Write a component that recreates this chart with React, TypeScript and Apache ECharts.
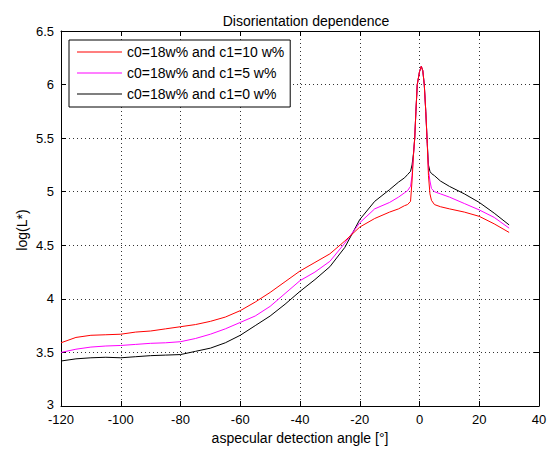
import React, { useEffect, useRef } from "react";
import * as echarts from "echarts";

const xValues = [-120, -115, -110, -105, -100, -95, -90, -85, -80, -75, -70, -65, -60, -55, -50, -45, -40, -35, -30, -25, -20, -15, -10, -7, -5, -4, -3, -2.5, -2, -1.6, -1.2, -0.75, 0, 0.6, 1.1, 1.6, 2.1, 2.6, 3, 3.5, 4, 5, 7, 10, 15, 20, 25, 30];

const redValues = [3.59, 3.64, 3.66, 3.665, 3.67, 3.69, 3.7, 3.72, 3.74, 3.76, 3.79, 3.83, 3.89, 3.97, 4.06, 4.16, 4.26, 4.34, 4.42, 4.54, 4.67, 4.75, 4.81, 4.84, 4.87, 4.88, 4.91, 5.1, 5.35, 5.5, 5.75, 6.0, 6.12, 6.17, 6.13, 6.0, 5.75, 5.45, 5.15, 4.98, 4.92, 4.88, 4.86, 4.84, 4.81, 4.77, 4.7, 4.62];

const magentaValues = [3.5, 3.53, 3.55, 3.56, 3.565, 3.575, 3.585, 3.59, 3.6, 3.63, 3.67, 3.72, 3.78, 3.84, 3.93, 4.05, 4.17, 4.25, 4.35, 4.52, 4.71, 4.84, 4.9, 4.95, 4.99, 5.01, 5.05, 5.15, 5.35, 5.5, 5.75, 6.0, 6.12, 6.17, 6.13, 6.0, 5.75, 5.45, 5.2, 5.1, 5.03, 5.0, 4.98, 4.95, 4.89, 4.83, 4.76, 4.66];

const blackValues = [3.42, 3.44, 3.45, 3.455, 3.45, 3.46, 3.47, 3.475, 3.48, 3.51, 3.54, 3.59, 3.66, 3.75, 3.84, 3.95, 4.07, 4.18, 4.3, 4.48, 4.74, 4.91, 5.02, 5.09, 5.13, 5.16, 5.19, 5.25, 5.36, 5.5, 5.75, 6.0, 6.12, 6.17, 6.13, 6.0, 5.75, 5.45, 5.25, 5.19, 5.17, 5.15, 5.1, 5.05, 4.98, 4.9, 4.8, 4.69];

const seriesNames = ["c0=18w% and c1=10 w%", "c0=18w% and c1=5 w%", "c0=18w% and c1=0 w%"];
const seriesColors = ["#ff0000", "#ff00ff", "#000000"];

const FONT = "'Liberation Sans', Arial, sans-serif";

function zip(xs: number[], ys: number[]) {
  return xs.map((x, i) => [x, ys[i]]);
}

export default function App() {
  const ref = useRef<HTMLDivElement>(null);
  useEffect(() => {
    if (!ref.current) return;
    const chart = echarts.init(ref.current, null, { renderer: "svg" });
    const valueSets = [redValues, magentaValues, blackValues];
    const axisCommon = {
      type: "value" as const,
      axisLine: { show: true, onZero: false, lineStyle: { color: "#000", width: 1 } },
      axisTick: { show: true, inside: true, length: 5, lineStyle: { color: "#000" } },
    };
    chart.setOption({
      animation: false,
      backgroundColor: "#fff",
      textStyle: { fontFamily: FONT },
      title: {
        text: "Disorientation dependence",
        left: 301,
        textAlign: "center",
        top: 9,
        textStyle: { fontSize: 14, fontWeight: "normal", color: "#000", fontFamily: FONT },
      },
      legend: {
        orient: "vertical",
        left: 69,
        top: 40,
        data: seriesNames,
        icon: "rect",
        itemWidth: 45,
        itemHeight: 1,
        itemGap: 5,
        padding: [4, 6, 5, 8],
        borderColor: "#000",
        borderWidth: 1,
        backgroundColor: "#fff",
        textStyle: { fontSize: 14, color: "#000", fontFamily: FONT, lineHeight: 16 },
      },
      grid: { left: 61, right: 14, top: 31, bottom: 46, containLabel: false },
      xAxis: [
        {
          ...axisCommon,
          position: "bottom",
          min: -120,
          max: 40,
          interval: 20,
          axisLabel: { margin: 7, fontSize: 13, color: "#000", fontFamily: FONT },
          splitLine: { show: true, lineStyle: { color: "#333", type: [1, 3], width: 1 } },
          name: "aspecular detection angle [°]",
          nameLocation: "middle",
          nameGap: 23,
          nameTextStyle: { fontSize: 14, color: "#000", fontFamily: FONT },
        },
        {
          ...axisCommon,
          position: "top",
          min: -120,
          max: 40,
          interval: 20,
          axisLabel: { show: false },
          splitLine: { show: false },
        },
      ],
      yAxis: [
        {
          ...axisCommon,
          position: "left",
          min: 3,
          max: 6.5,
          interval: 0.5,
          axisLabel: {
            margin: 7,
            fontSize: 13,
            color: "#000",
            fontFamily: FONT,
            formatter: (v: number) => (v === 3 ? "{low|3}" : String(v)),
            rich: { low: { fontSize: 13, color: "#000", fontFamily: FONT, padding: [0, 0, 4, 0] } },
          },
          splitLine: { show: true, lineStyle: { color: "#333", type: [1, 3], width: 1 } },
        },
        {
          ...axisCommon,
          position: "right",
          min: 3,
          max: 6.5,
          interval: 0.5,
          axisLabel: { show: false },
          splitLine: { show: false },
        },
      ],
      graphic: [
        {
          type: "text",
          x: 22,
          y: 230,
          rotation: Math.PI / 2,
          style: {
            text: "log(L*)",
            fontSize: 14,
            fontFamily: FONT,
            fill: "#000",
            textAlign: "center",
            textVerticalAlign: "middle",
          },
        },
      ],
      series: seriesNames.map((name, i) => ({
        name,
        type: "line",
        xAxisIndex: 0,
        yAxisIndex: 0,
        data: zip(xValues, valueSets[i]),
        symbol: "none",
        showSymbol: false,
        smooth: false,
        z: 4 - i,
        lineStyle: { color: seriesColors[i], width: 1 },
        itemStyle: { color: seriesColors[i] },
      })),
    });
    return () => chart.dispose();
  }, []);
  return (
    <div
      ref={ref}
      style={{ position: "fixed", left: 0, top: 0, width: 553, height: 452, background: "#fff" }}
    />
  );
}
